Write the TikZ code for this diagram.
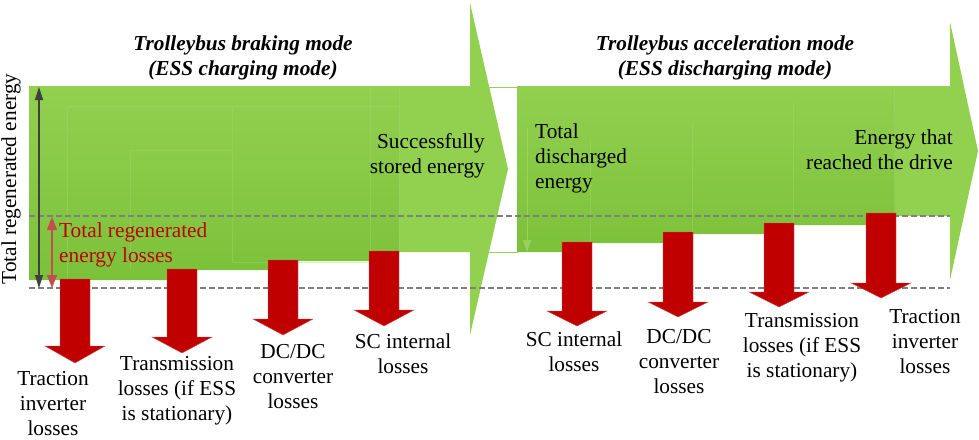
\documentclass[tikz,border=0pt]{standalone}
\usepackage{fontspec}
\setmainfont{Liberation Serif}
\usetikzlibrary{arrows.meta}
\definecolor{grA}{HTML}{92D050}
\definecolor{grB}{HTML}{7CC13A}
\definecolor{grLine}{HTML}{A3D96B}
\definecolor{lossred}{HTML}{C00000}
\definecolor{lossedge}{HTML}{C9504E}
\definecolor{txtred}{HTML}{C00000}
\definecolor{dashgray}{HTML}{7F7F7F}
\definecolor{dimgray}{HTML}{404040}
\definecolor{dimred}{HTML}{C0504D}
\newcommand\LossArrow[4]{%
  \filldraw[lossarrow] (#1-15,#2) -- (#1+15,#2) -- (#1+15,#4) -- (#1+30,#4) -- (#1,#3) -- (#1-30,#4) -- (#1-15,#4) -- cycle;}
\begin{document}
\begin{tikzpicture}[x=1pt,y=-1pt,
  lbl/.style={font=\fontsize{21.3}{25}\selectfont, inner sep=0pt, align=center},
  lblL/.style={lbl, align=left},
  lblR/.style={lbl, align=right},
  ttl/.style={lbl, font=\fontsize{21.3}{25}\selectfont\bfseries\itshape},
  faint/.style={grLine, line width=0.6pt, opacity=0.4},
  dashline/.style={dashgray, line width=1.2pt, dash pattern=on 6pt off 3pt},
  lossarrow/.style={fill=lossred, draw=lossedge, line width=0.4pt},
  greenbody/.style={fill=grA},
  greenstep/.style={top color=grA, bottom color=grB},
]
\useasboundingbox (0,0) rectangle (979,439);
% white gap box
\filldraw[fill=white, draw=grA, line width=1pt] (470,87) rectangle (517,252);
% left arrow
\fill[greenbody] (29,86) -- (470,86) -- (470,3) -- (508,169) -- (470,335) -- (470,252) -- (29,252) -- cycle;
\shade[greenstep] (29,86) -- (399,86) -- (399,252) -- (384,252) -- (384,261) -- (283,261) -- (283,270) -- (182,270) -- (182,280) -- (29,280) -- cycle;
% right arrow
\fill[greenbody] (517,86) -- (950,86) -- (950,22) -- (978,151) -- (950,280) -- (950,216) -- (517,216) -- cycle;
\shade[greenstep] (517,86) -- (895,86) -- (895,216) -- (881,216) -- (881,225) -- (779,225) -- (779,234) -- (678,234) -- (678,243) -- (577,243) -- (577,252) -- (517,252) -- cycle;
% faint inner edges
\draw[faint] (67,280) -- (67,106) -- (399,106);
\draw[faint] (130,270) -- (130,150) -- (232,150);
\draw[faint] (232,107) -- (232,262) -- (370,262);
\draw[faint] (370,86) -- (370,262);
\draw[faint] (399,86) -- (399,252);
\draw[faint] (590,138) -- (590,243);
\draw[faint] (692,123) -- (692,234);
\draw[faint] (793,103) -- (793,225);
\draw[faint] (894,86) -- (894,215);
\coordinate (fa1) at (527,128);
\coordinate (fa2) at (527,252);
\draw[grLine, line width=0.7pt, opacity=0.7, -{Triangle[width=8pt,length=12pt]}] (fa1) -- (fa2);
% dashed reference lines
\coordinate (d1a) at (29,216); \coordinate (d1b) at (950,216);
\coordinate (d2a) at (29,288); \coordinate (d2b) at (950,288);
\draw[dashline] (d1a) -- (d1b);
\draw[dashline] (d2a) -- (d2b);
% dimension arrows
\coordinate (ta) at (39,87); \coordinate (tb) at (39,288);
\coordinate (ra) at (52,217); \coordinate (rb) at (52,288);
\draw[dimgray, line width=1.1pt, {Triangle[width=8pt,length=13pt]}-{Triangle[width=8pt,length=13pt]}] (ta) -- (tb);
\draw[dimred, line width=1.3pt, {Triangle[width=10pt,length=13pt]}-{Triangle[width=10pt,length=13pt]}] (ra) -- (rb);
% loss arrows
\LossArrow{75}{279}{363}{346}
\LossArrow{182}{269}{353}{337}
\LossArrow{283}{260}{335}{319}
\LossArrow{384}{251}{326}{310}
\LossArrow{577}{242}{326}{311}
\LossArrow{678}{232}{317}{302}
\LossArrow{779}{223}{307}{292}
\LossArrow{881}{213}{298}{283}
% texts
\node[ttl] (t1) at (243,57.5) {Trolleybus braking mode\\(ESS charging mode)};
\node[ttl] (t2) at (725,57.5) {Trolleybus acceleration mode\\(ESS discharging mode)};
\node[lbl, rotate=90] (yl) at (11,179) {Total regenerated energy};
\node[lblL, text=txtred, anchor=west] (rl) at (59,244.5) {Total regenerated\\energy losses};
\node[lblR, anchor=east] (s1) at (485,156) {Successfully\\stored energy};
\node[lblL, anchor=west] (s2) at (535,158) {Total\\discharged\\energy};
\node[lblR, anchor=east] (s3) at (953,150) {Energy that\\reached the drive};
\node[lbl] (l1) at (53,404) {Traction\\inverter\\losses};
\node[lbl] (l2) at (177,391) {Transmission\\losses (if ESS\\is stationary)};
\node[lbl] (l3) at (293,377) {DC/DC\\converter\\losses};
\node[lbl] (l4) at (403,353.5) {SC internal\\losses};
\node[lbl] (r1) at (574,351.5) {SC internal\\losses};
\node[lbl] (r2) at (679,362) {DC/DC\\converter\\losses};
\node[lbl] (r3) at (802,348) {Transmission\\losses (if ESS\\is stationary)};
\node[lbl] (r4) at (925,342) {Traction\\inverter\\losses};
\end{tikzpicture}
\end{document}
